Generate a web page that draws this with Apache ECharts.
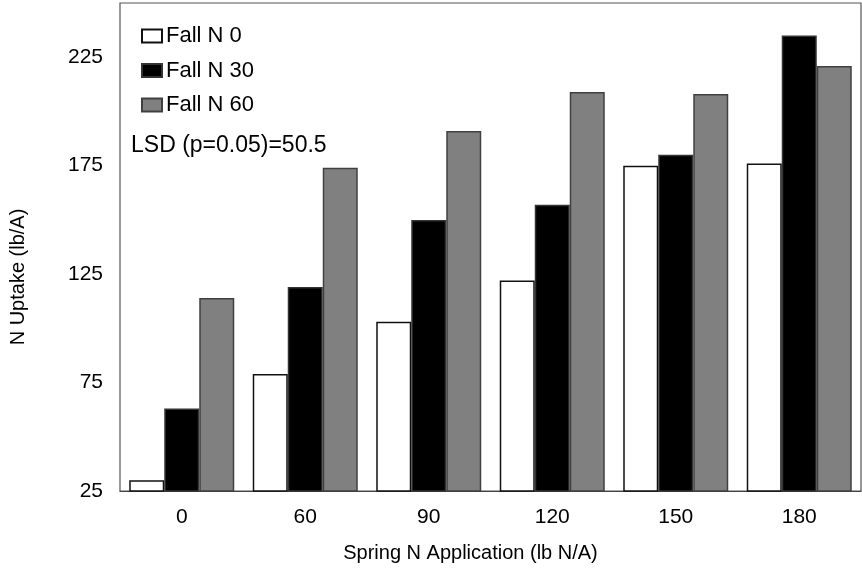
<!DOCTYPE html>
<html>
<head>
<meta charset="utf-8">
<script src="https://cdn.jsdelivr.net/npm/echarts@6/dist/echarts.min.js"></script>
<style>html,body{margin:0;padding:0;background:#fff;}#c{width:862px;height:568px;}</style>
</head>
<body>
<div id="c"></div>
<script>
const categories = ['0', '60', '90', '120', '150', '180'];
const seriesNames = ['Fall N 0', 'Fall N 30', 'Fall N 60'];
const fallN0 = [30, 79, 103, 122, 175, 176];
const fallN30 = [63, 119, 150, 157, 180, 235];
const fallN60 = [114, 174, 191, 209, 208, 221];
const yTickLabels = [25, 75, 125, 175, 225];
const lsdText = 'LSD (p=0.05)=50.5';

const FONT = '"Liberation Sans", Arial, sans-serif';
const chart = echarts.init(document.getElementById('c'), null, {renderer: 'canvas'});
const fills = ['#ffffff', '#000000', '#808080'];
const borders = ['#111111', '#333333', '#404040'];
const values = [fallN0, fallN30, fallN60];

chart.setOption({
  animation: false,
  backgroundColor: '#fff',
  grid: {left: 120, right: 1, top: 3, bottom: 77, show: true, borderColor: '#555', borderWidth: 1.2, containLabel: false},
  legend: {
    data: seriesNames, orient: 'vertical', left: 141, top: 25, padding: 0,
    itemWidth: 20, itemHeight: 13, itemGap: 12.5, icon: 'rect',
    textStyle: {fontFamily: FONT, fontSize: 22, color: '#000', padding: [0,0,0,-1]}
  },
  xAxis: {
    type: 'category', data: categories,
    axisLine: {show: true, lineStyle: {color: '#444', width: 1.2}},
    axisTick: {show: false},
    axisLabel: {fontFamily: FONT, fontSize: 21, color: '#000', margin: 16},
    name: 'Spring N Application (lb N/A)', nameLocation: 'middle', nameGap: 52,
    nameTextStyle: {fontFamily: FONT, fontSize: 20, color: '#000', padding: [0, 40, 0, 0]}
  },
  yAxis: {
    type: 'value', min: 25, max: 250, interval: 25,
    axisLine: {show: false}, axisTick: {show: false}, splitLine: {show: false},
    axisLabel: {fontFamily: FONT, fontSize: 21, color: '#000', margin: 17,
      formatter: v => yTickLabels.indexOf(v) >= 0 ? String(v) : ''},
    name: 'N Uptake (lb/A)', nameLocation: 'middle', nameGap: 92, nameRotate: 90,
    nameTextStyle: {fontFamily: FONT, fontSize: 20, color: '#000', padding: [0, 60, 0, 0]}
  },
  graphic: [{
    type: 'text', left: 131, top: 134,
    style: {text: lsdText, font: '23px ' + FONT, fill: '#000'}
  }],
  series: values.map((d, i) => ({
    name: seriesNames[i], type: 'bar', data: d,
    barWidth: 35, barGap: '0%',
    itemStyle: {color: fills[i], borderColor: borders[i], borderWidth: 1.5}
  }))
});
</script>
</body>
</html>
